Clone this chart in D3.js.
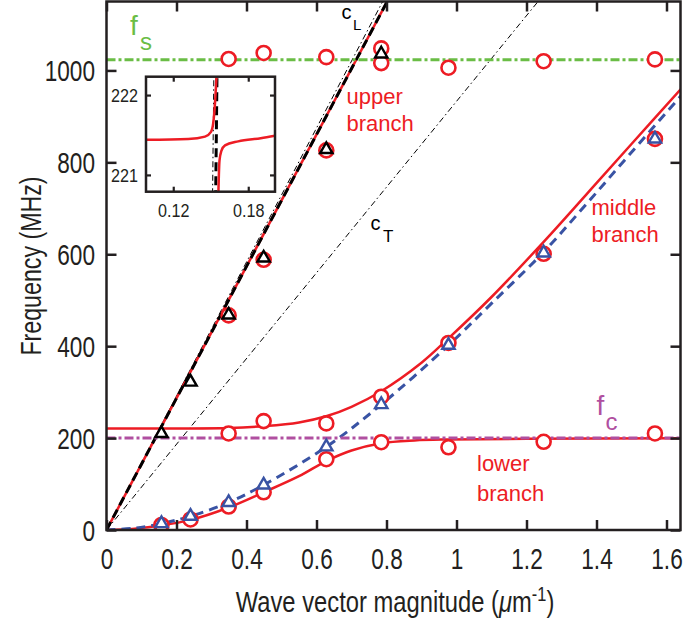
<!DOCTYPE html>
<html>
<head>
<meta charset="utf-8">
<script src="https://cdn.jsdelivr.net/npm/d3@7"></script>
<style>
  body { margin: 0; background: #fff; }
  svg { display: block; }
  text { font-family: "Liberation Sans", Arial, sans-serif; }
</style>
</head>
<body>
<svg id="chart"></svg>
<script>
// ---- data (k in 1/um, f in MHz) ----
let xTicks = [0, 0.2, 0.4, 0.6, 0.8, 1, 1.2, 1.4, 1.6];
let yTicks = [0, 200, 400, 600, 800, 1000];
let insetXTicks = [0.12, 0.18];
let insetYTicks = [221, 222];

let fS = 1023;
let fC = 200;

let cLine = [[0, 0], [0.802, 1150]];      // thick black dashed
let cLThin = [[0, 0], [0.789, 1150]];     // thin dash-dot c_L
let cTThin = [[0, 0], [1.233, 1150]];     // thin dash-dot c_T

let upperFit = [[0, 0], [0.802, 1150]];
let middleFit = [[0, 221], [0.2, 221], [0.35, 222], [0.45, 226], [0.55, 234], [0.63, 248],
  [0.7, 268], [0.785, 302], [0.9, 364], [0.977, 417], [1.1, 507], [1.249, 627],
  [1.372, 731], [1.5, 840], [1.643, 961]];
let lowerFit = [[0, 0], [0.08, 3], [0.157, 10], [0.24, 22], [0.349, 49], [0.449, 82],
  [0.55, 117], [0.628, 150], [0.7, 173], [0.785, 189], [0.88, 195], [0.977, 197],
  [1.2, 198.5], [1.643, 199.5]];
let spinWave = [[0, 0], [0.08, 4], [0.157, 14], [0.24, 30], [0.349, 60], [0.449, 98],
  [0.628, 181], [0.785, 273], [0.977, 402], [1.1, 493], [1.249, 605], [1.372, 710],
  [1.5, 822], [1.643, 946]];

let circlesUpper = [[0.349, 467], [0.449, 588], [0.628, 826]];
let circlesTop = [[0.349, 1025], [0.449, 1038], [0.628, 1029], [0.785, 1048], [0.785, 1016],
  [0.977, 1006], [1.249, 1020], [1.567, 1024]];
let circlesMiddle = [[0.349, 210], [0.449, 237], [0.628, 232], [0.785, 290], [0.977, 407],
  [1.249, 601], [1.567, 851]];
let circlesLower = [[0.157, 11], [0.24, 23], [0.349, 51], [0.449, 82], [0.628, 154],
  [0.785, 191], [0.977, 180], [1.249, 192], [1.567, 210]];

let trianglesBlack = [[0.157, 210], [0.24, 322], [0.349, 468], [0.449, 592], [0.628, 828], [0.785, 1036]];
let trianglesBlue = [[0.157, 14], [0.24, 30], [0.349, 60], [0.449, 98], [0.628, 181], [0.785, 273],
  [0.977, 402], [1.249, 603], [1.567, 851]];

let insetLeft = [[0.0982, 221.44], [0.132, 221.45], [0.1454, 221.48], [0.1502, 221.54],
  [0.152, 221.65], [0.1534, 221.9], [0.1547, 222.25]];
let insetRight = [[0.1561, 220.77], [0.1565, 221.0], [0.157, 221.18], [0.1585, 221.3],
  [0.1614, 221.37], [0.172, 221.42], [0.19, 221.46], [0.2014, 221.49]];

// ---- layout ----
let width = 684;
let height = 626;
let pLeft = 106.5, pRight = 680.5, pTop = 1.5, pBottom = 530;

let red = "#ed1c24", blue = "#3953a4", green = "#6abd45", purple = "#b04fa0", ink = "#231f20";

let svg = d3.select("#chart").attr("width", width).attr("height", height);

let xScale = d3.scaleLinear().domain([0, 1.64]).range([pLeft, pRight]);
let yScale = d3.scaleLinear().domain([0, 1150]).range([pBottom, pTop]);

let defs = svg.append("defs");
defs.append("clipPath").attr("id", "plotClip").append("rect")
  .attr("x", pLeft).attr("y", pTop).attr("width", pRight - pLeft).attr("height", pBottom - pTop);

let line = (sx, sy) => d3.line().x(d => sx(d[0])).y(d => sy(d[1]));
let smooth = (sx, sy) => d3.line().x(d => sx(d[0])).y(d => sy(d[1])).curve(d3.curveCatmullRom.alpha(0.5));
let steep = (sx, sy) => d3.line().x(d => sx(d[0])).y(d => sy(d[1])).curve(d3.curveMonotoneX);

let plot = svg.append("g").attr("clip-path", "url(#plotClip)");

let drawPath = (g, data, gen, color, w, dash) => {
  g.append("path").datum(data)
    .attr("d", gen)
    .attr("fill", "none")
    .attr("stroke", color)
    .attr("stroke-width", w)
    .attr("stroke-dasharray", dash || null);
};

// guide lines
drawPath(plot, cTThin, line(xScale, yScale), "#000", 1, "6,3,1.5,3");
drawPath(plot, cLThin, line(xScale, yScale), "#000", 1, "6,3,1.5,3");

// fitted branches
drawPath(plot, upperFit, line(xScale, yScale), red, 2.5);
drawPath(plot, middleFit, smooth(xScale, yScale), red, 2.5);
drawPath(plot, lowerFit, smooth(xScale, yScale), red, 2.5);
drawPath(plot, spinWave, smooth(xScale, yScale), blue, 3, "9,6");
drawPath(plot, cLine, line(xScale, yScale), "#000", 3, "9,5");

// f_s and f_c
drawPath(plot, [[0, fS], [1.64, fS]], line(xScale, yScale), green, 3, "9,3,3,3");
drawPath(plot, [[0, fC], [1.64, fC]], line(xScale, yScale), purple, 3, "9,3,3,3");

// markers
let circles = circlesUpper.concat(circlesTop, circlesMiddle, circlesLower);
plot.selectAll(".circ").data(circles).enter().append("circle")
  .attr("class", "circ")
  .attr("cx", d => xScale(d[0]))
  .attr("cy", d => yScale(d[1]))
  .attr("r", 7)
  .attr("fill", "#fff")
  .attr("stroke", red)
  .attr("stroke-width", 2.6);

let tri = d3.symbol().type(d3.symbolTriangle).size(66);
let drawTriangles = (data, color) => {
  plot.append("g").selectAll("path").data(data).enter().append("path")
    .attr("d", tri)
    .attr("transform", d => "translate(" + xScale(d[0]) + "," + yScale(d[1]) + ")")
    .attr("fill", "#fff")
    .attr("stroke", color)
    .attr("stroke-width", 2.4);
};
drawTriangles(trianglesBlack, "#000");
drawTriangles(trianglesBlue, blue);

// ---- axes ----
let styleAxis = (g) => {
  g.select(".domain").remove();
  g.selectAll(".tick line").attr("stroke", ink).attr("stroke-width", 2.5);
  g.selectAll("text").attr("fill", ink).attr("font-size", 29).attr("font-family", null);
};

let xAxis = d3.axisBottom(xScale).tickValues(xTicks).tickSizeInner(-10).tickSizeOuter(0)
  .tickPadding(18).tickFormat(d => d);
let gx = svg.append("g").attr("transform", "translate(0," + pBottom + ")").call(xAxis);
styleAxis(gx);
gx.selectAll("text").attr("transform", "scale(0.78,1)");

let yAxis = d3.axisLeft(yScale).tickValues(yTicks).tickSizeInner(-10).tickSizeOuter(0)
  .tickPadding(11).tickFormat(d => d);
let gy = svg.append("g").attr("transform", "translate(" + pLeft + ",0)").call(yAxis);
styleAxis(gy);
gy.selectAll("text").attr("x", -11.5 / 0.78).attr("dy", "0.36em").attr("transform", "scale(0.78,1)");

let gxt = svg.append("g").attr("transform", "translate(0," + pTop + ")")
  .call(d3.axisTop(xScale).tickValues(xTicks).tickSizeInner(-10).tickSizeOuter(0).tickFormat(""));
styleAxis(gxt);
let gyr = svg.append("g").attr("transform", "translate(" + pRight + ",0)")
  .call(d3.axisRight(yScale).tickValues(yTicks).tickSizeInner(-10).tickSizeOuter(0).tickFormat(""));
styleAxis(gyr);

svg.append("rect")
  .attr("x", pLeft).attr("y", pTop).attr("width", pRight - pLeft).attr("height", pBottom - pTop)
  .attr("fill", "none").attr("stroke", ink).attr("stroke-width", 2.5);

// axis titles
let xt = svg.append("text")
  .attr("transform", "translate(395,612) scale(0.82,1)")
  .attr("text-anchor", "middle").attr("font-size", 29).attr("fill", ink);
xt.append("tspan").text("Wave vector magnitude (");
xt.append("tspan").attr("font-style", "italic").text("μ");
xt.append("tspan").text("m");
xt.append("tspan").attr("font-size", 20).attr("dy", -11).text("-1");
xt.append("tspan").attr("dy", 11).text(")");

svg.append("text")
  .attr("transform", "translate(41,266) rotate(-90) scale(0.8,1)")
  .attr("text-anchor", "middle").attr("font-size", 29).attr("fill", ink)
  .text("Frequency (MHz)");

// ---- annotations ----
let label = (x, y, s, size, color) => {
  svg.append("text").attr("x", x).attr("y", y).attr("font-size", size).attr("fill", color).text(s);
};
label(346.5, 104, "upper", 22, red);
label(346.5, 131, "branch", 22, red);
label(591.5, 215, "middle", 22, red);
label(591.5, 242, "branch", 22, red);
label(477, 471, "lower", 22, red);
label(477, 501, "branch", 22, red);

label(130, 35, "f", 28, green);
label(140, 50, "s", 24, green);
label(596.5, 415, "f", 28, purple);
label(605.5, 430, "c", 24, purple);
label(341.5, 18.5, "c", 20, "#000");
label(353, 30, "L", 15, "#000");
label(370.5, 230, "c", 20, "#000");
label(383, 241.5, "T", 17, "#000");

// ---- inset ----
let ixScale = d3.scaleLinear().domain([0.0982, 0.2014]).range([146, 275]);
let iyScale = d3.scaleLinear().domain([220.79, 222.23]).range([191.7, 76.7]);

defs.append("clipPath").attr("id", "insetClip").append("rect")
  .attr("x", 146).attr("y", 76.7).attr("width", 129).attr("height", 115);

svg.append("rect").attr("x", 146).attr("y", 76.7).attr("width", 129).attr("height", 115).attr("fill", "#fff");
let inset = svg.append("g").attr("clip-path", "url(#insetClip)");
drawPath(inset, cLThin, line(ixScale, iyScale), "#000", 1, "6,3,1.5,3");
drawPath(inset, cLine, line(ixScale, iyScale), "#000", 3, "9,5");
drawPath(inset, insetLeft, steep(ixScale, iyScale), red, 2.5);
drawPath(inset, insetRight, steep(ixScale, iyScale), red, 2.5);

let styleInset = (g) => {
  g.select(".domain").remove();
  g.selectAll(".tick line").attr("stroke", ink).attr("stroke-width", 2.2);
  g.selectAll("text").attr("fill", ink).attr("font-size", 19).attr("font-family", null);
};
let igx = svg.append("g").attr("transform", "translate(0,191.7)")
  .call(d3.axisBottom(ixScale).tickValues(insetXTicks).tickSizeInner(-5).tickSizeOuter(0).tickPadding(12).tickFormat(d => d));
styleInset(igx);
igx.selectAll("text").attr("transform", "scale(0.85,1)");
let igy = svg.append("g").attr("transform", "translate(146,0)")
  .call(d3.axisLeft(iyScale).tickValues(insetYTicks).tickSizeInner(-5).tickSizeOuter(0).tickFormat(d => d));
styleInset(igy);
igy.selectAll("text").attr("x", -8 / 0.85).attr("dy", "0.36em").attr("transform", "scale(0.85,1)");
let igxt = svg.append("g").attr("transform", "translate(0,76.7)")
  .call(d3.axisTop(ixScale).tickValues(insetXTicks).tickSizeInner(-5).tickSizeOuter(0).tickFormat(""));
styleInset(igxt);
let igyr = svg.append("g").attr("transform", "translate(275,0)")
  .call(d3.axisRight(iyScale).tickValues(insetYTicks).tickSizeInner(-5).tickSizeOuter(0).tickFormat(""));
styleInset(igyr);
svg.append("rect").attr("x", 146).attr("y", 76.7).attr("width", 129).attr("height", 115)
  .attr("fill", "none").attr("stroke", ink).attr("stroke-width", 2.5);
</script>
</body>
</html>
